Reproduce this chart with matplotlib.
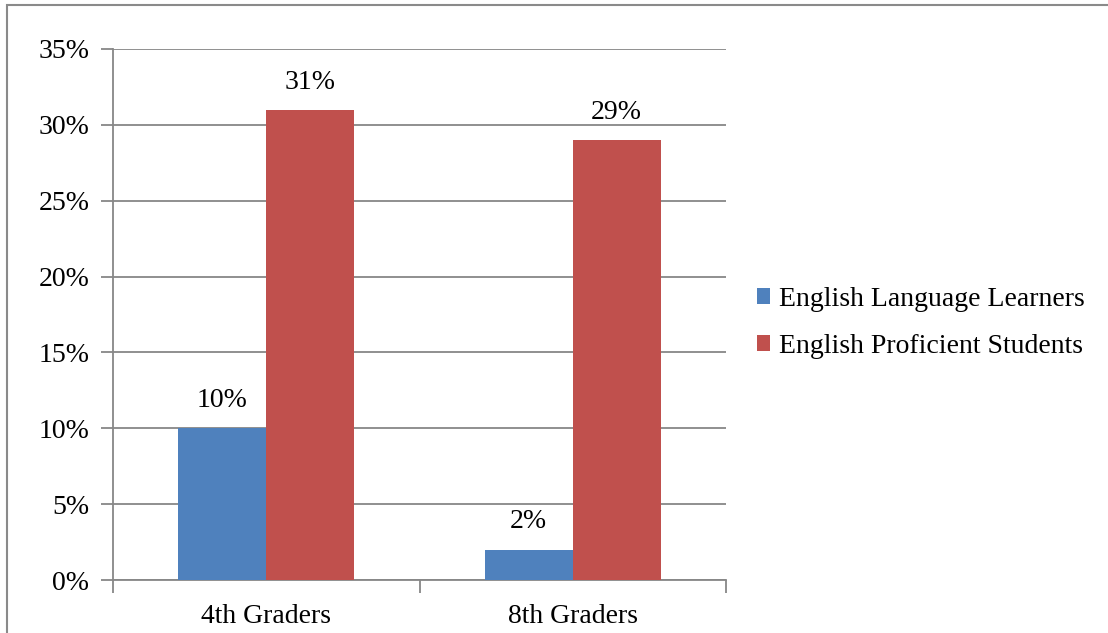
import numpy as np
import matplotlib.pyplot as plt
from matplotlib.patches import Rectangle

categories = ["4th Graders", "8th Graders"]
series_names = ["English Language Learners", "English Proficient Students"]
ell_values = [10, 2]
eps_values = [31, 29]
y_ticks = [0, 5, 10, 15, 20, 25, 30, 35]

colors = ["#4F81BD", "#C0504D"]
grid_color = "#878787"
fs = 20

plt.rcParams["font.family"] = ["Liberation Serif", "DejaVu Serif"]

fig = plt.figure(figsize=(11.08, 6.33), dpi=100)
ax = fig.add_axes([113 / 1108, 1 - 580 / 633, (726 - 113) / 1108, (580 - 49) / 633])

x = np.arange(len(categories))
width = 0.287
for i, (vals, name) in enumerate(zip([ell_values, eps_values], series_names)):
    pos = x - width / 2 + i * width
    ax.bar(pos, vals, width, color=colors[i], label=name, zorder=3)
    for p, v in zip(pos, vals):
        ax.text(p, v + 1.0, f"{v}%", ha="center", va="bottom", fontsize=fs)

ax.set_xlim(-0.5, 1.5)
ax.set_ylim(0, 35)
ax.set_yticks(y_ticks)
ax.set_yticklabels([f"{t}%" for t in y_ticks], fontsize=fs)
ax.yaxis.grid(True, color=grid_color, linewidth=1.3, zorder=0)
ax.set_axisbelow(True)

# category ticks sit on the boundaries between groups
ax.set_xticks([-0.5, 0.5, 1.5])
ax.set_xticklabels([])
ax.set_xticks(x, minor=True)
ax.set_xticklabels(categories, minor=True, fontsize=fs)
ax.tick_params(axis="x", which="minor", length=0, pad=17)
ax.tick_params(axis="x", which="major", length=9, width=1.3, color=grid_color)
ax.tick_params(axis="y", length=9, width=1.3, color=grid_color, pad=8)

for side in ["top", "right"]:
    ax.spines[side].set_visible(False)
for side in ["left", "bottom"]:
    ax.spines[side].set_color(grid_color)
    ax.spines[side].set_linewidth(1.3)

ax.legend(loc="center left", bbox_to_anchor=(1.009, 0.484), frameon=False,
          fontsize=fs, handlelength=0.5, handleheight=0.5, handletextpad=0.3,
          labelspacing=0.8)

# outer chart frame
fig.patches.append(Rectangle((7 / 1108, -0.1), 1.2, 1 - 5 / 633 + 0.1,
                             transform=fig.transFigure, fill=False,
                             edgecolor="#8a8a8a", linewidth=1.5))

fig.savefig("out.png", dpi=100)
